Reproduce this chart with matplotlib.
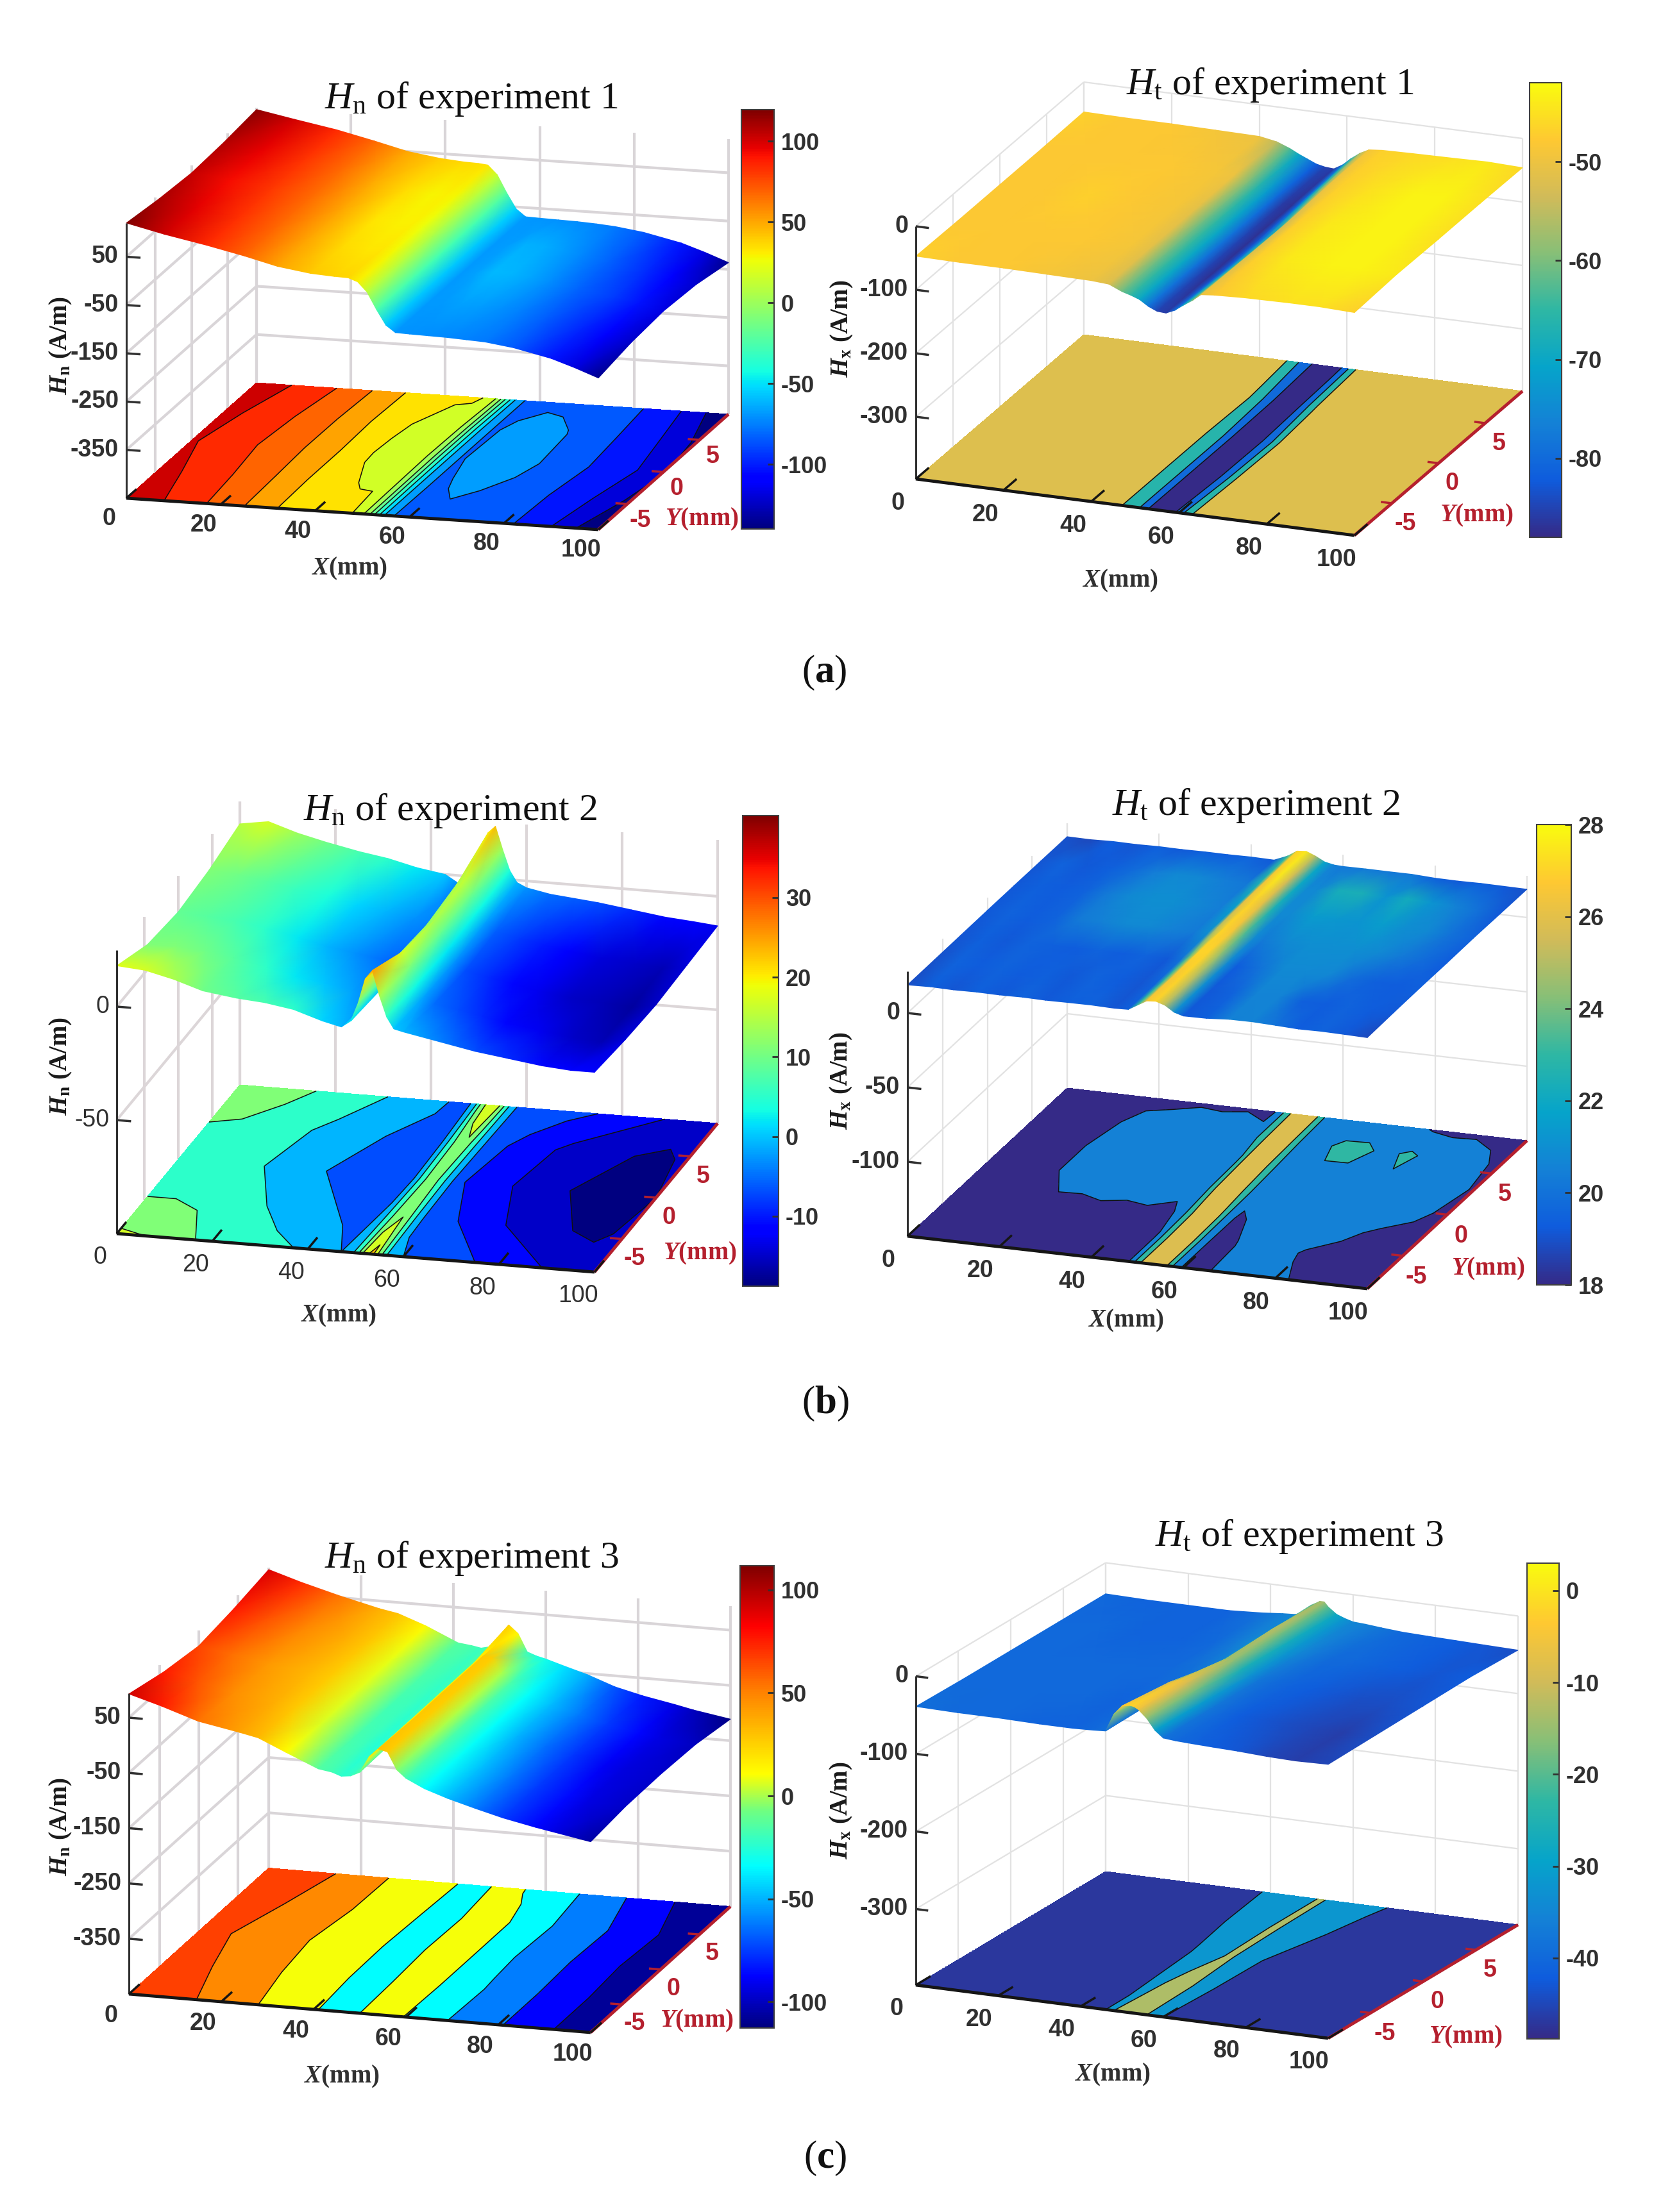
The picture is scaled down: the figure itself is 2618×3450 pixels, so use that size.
import numpy as np
import matplotlib
matplotlib.use('Agg')
import matplotlib.pyplot as plt
from matplotlib.cm import ScalarMappable
from matplotlib.colors import LinearSegmentedColormap, Normalize

plt.rcParams['font.family'] = ['Liberation Sans', 'DejaVu Sans']
plt.rcParams['axes.unicode_minus'] = False
plt.rcParams['mathtext.fontset'] = 'custom'
plt.rcParams['mathtext.rm'] = 'Liberation Serif'
plt.rcParams['mathtext.it'] = 'Liberation Serif:italic'
plt.rcParams['mathtext.bf'] = 'Liberation Serif:bold'
plt.rcParams['mathtext.bfit'] = 'Liberation Serif:italic:bold'

parula = LinearSegmentedColormap.from_list('parula', [
    '#352a87', '#0f5cdd', '#1481d6', '#06a4ca', '#2eb7a4',
    '#87bf77', '#d1bb59', '#fec832', '#f9fb0e'])
jet = plt.get_cmap('jet')
# the colour bar of experiment 3 has its yellow lower down than plain jet
jet_warm = LinearSegmentedColormap.from_list('jet_warm', [
    (0, '#000080'), (0.11, '#0000ff'), (0.35, '#00ffff'), (0.47, '#70ff80'),
    (0.55, '#ffff00'), (0.73, '#ff8000'), (0.87, '#ff0000'), (1, '#800000')])

# Y stations of the measured rows, mm
y_rows = [-9, -4.5, 0, 4.5, 9]
y_rows_e2t = [-9, -6, -3, 0, 3, 6, 9]
x_ticks = [0, 20, 40, 60, 80, 100]
y_ticks = [-5, 0, 5]

# experiment 1, Hn
x_e1n = [0, 8, 17, 25, 32, 39, 44, 47, 49, 51, 53, 55, 57, 60, 64, 68, 72, 76, 82, 90, 95, 100]
z_e1n = [
    [120, 102, 85, 68, 51, 41, 38, 37, 30, 10, -25, -56, -70, -71, -72, -73, -75, -77, -85, -102, -118, -136],
    [110, 97, 83, 67, 50, 36, 33, 33, 28, 8, -27, -56, -69, -69, -66, -68, -71, -75, -84, -98, -108, -123],
    [104, 93, 81, 66, 50, 33, 30, 30, 26, 6, -28, -56, -69, -66, -60, -61, -65, -72, -82, -93, -103, -117],
    [108, 96, 82, 66, 49, 35, 29, 30, 28, 8, -27, -56, -69, -67, -62, -63, -67, -73, -83, -97, -108, -122],
    [116, 101, 85, 67, 50, 40, 36, 35, 33, 14, -22, -54, -69, -70, -71, -72, -74, -77, -85, -102, -118, -136],
]
levels_e1n = [-140, -119, -102, -85, -68, -51, -34, -17, 0, 17, 34, 51, 68, 85, 102, 120]

# experiment 1, Ht
x_e1t = [0, 10, 20, 30, 40, 44, 47, 49, 51, 53, 55, 57, 59, 61, 63, 65, 68, 75, 85, 92, 100]
z_e1t = [
    [-47, -48, -48, -49, -50, -52, -61, -65, -70, -79, -85, -86, -80, -70, -61, -50, -48, -46, -45, -45, -47],
    [-48, -48, -48, -48, -49, -51, -61, -65, -70, -79, -85, -87, -83, -74, -64, -52, -47, -44, -43, -43, -44],
    [-48, -48, -47, -48, -49, -51, -61, -65, -70, -79, -85, -87, -83, -75, -66, -53, -47, -44, -43, -43, -45],
    [-48, -48, -48, -48, -49, -50, -60, -66, -72, -80, -86, -87, -81, -70, -60, -50, -47, -45, -43, -43, -45],
    [-47, -48, -48, -49, -50, -55, -63, -70, -76, -82, -85, -86, -78, -66, -56, -49, -47, -46, -45, -44, -46],
]
levels_e1t = [-88, -79, -70, -61, -42]
bands_e1t = [-88, -80, -66, -52]

# experiment 2, Hn
x_e2n = [0, 6, 12, 18, 25, 31, 37, 43, 47, 49, 50.5, 52, 53.5, 55, 56.5, 58, 60, 65, 70, 75, 82, 89, 95, 100]
z_e2n = [
    [18, 17, 14, 10, 8, 7, 5, 1, -1, 2, 10, 21, 25, 14, 5, 0, -1, -3, -5, -7, -9, -11, -12, -12],
    [11, 11, 10, 8, 5, 2, 0, -2, -4, 0, 7, 14, 17, 11, 3, -2, -5, -7, -9, -11, -13, -15, -16, -14],
    [9, 8, 7, 5, 2, -1, -3, -5, -6, -3, 5, 12, 14, 9, 2, -3, -7, -9, -11, -13, -15, -16, -17, -15],
    [11, 10, 8, 6, 4, 1, -1, -3, -4, -1, 7, 14, 16, 10, 3, -2, -6, -8, -10, -12, -14, -15, -16, -14],
    [15, 17, 13, 10, 7, 5, 2, 0, -5, 1, 12, 20, 23, 13, 4, -1, -3, -5, -6, -7, -9, -11, -12, -13],
]
levels_e2n = [-19, -15, -11, -7, -1, 5, 11, 17, 23, 29, 41]

# experiment 2, Ht
x_e2t = [0, 5, 10, 15, 20, 25, 30, 35, 40, 45, 48, 50, 52, 54, 56, 58, 60, 65, 70, 75, 80, 85, 90, 95, 100]
z_e2t = [
    [18.9, 19.4, 19.1, 19.4, 19.2, 19.5, 19.2, 19.4, 19.5, 19.1, 19.4, 23, 26.5, 27, 25, 21, 19.2, 19.4, 20.5, 20.6, 20, 19.3, 19.5, 19.2, 18.8],
    [19, 19.5, 19.3, 19.5, 19.3, 19.4, 19.2, 19.5, 19.3, 19.1, 19.5, 23, 26.5, 27, 25, 21, 19.2, 19.5, 20.6, 20.6, 19.4, 19.3, 19.5, 19.3, 19.2],
    [19.1, 19.4, 19.2, 19.5, 19.4, 19.3, 19.5, 19.3, 19.5, 19.2, 20, 23.5, 27, 27, 24.5, 20.8, 19.3, 20, 20.8, 20.8, 20.7, 19.8, 19.4, 19.3, 19.4],
    [19.2, 19.5, 19.3, 19.5, 20.3, 20.5, 20.8, 20.8, 20.5, 20.3, 21, 25, 27, 26.5, 23.5, 20.8, 20.3, 20.8, 21, 21, 21, 20.8, 20.3, 19.8, 19.3],
    [19.2, 19.4, 19.3, 19.5, 20.3, 20.8, 21, 21, 20.7, 20.4, 21.5, 26, 27, 26, 22.5, 20.8, 20.8, 21.4, 21.3, 21.2, 21.5, 21, 20.8, 20, 19.5],
    [19.1, 19.5, 19.2, 19.4, 19.8, 20.4, 20.8, 20.7, 20.4, 20.2, 22.5, 26.5, 27.5, 25.5, 22, 20.8, 20.8, 22.3, 22.4, 21.2, 22.2, 21.2, 20.6, 20, 19.2],
    [19, 18.8, 19.3, 19.1, 19.4, 19.2, 19.4, 19.3, 19.5, 19.2, 23, 27, 27.5, 25, 21.8, 20.5, 20.2, 20.3, 20.2, 20.2, 19.4, 19.2, 19.4, 19.2, 19],
]
levels_e2t = [18, 19.6, 21.8, 24.2, 28]
bands_e2t = [18, 20.5, 23, 25.8]

# experiment 3, Hn
x_e3n = [0, 7, 15, 24, 28, 34, 41, 44, 46, 48, 50, 52, 54, 56, 58, 60, 64, 69, 75, 81, 88, 92, 100]
z_e3n = [
    [93, 76, 54, 40, 33, 11, -14, -18, -24, -22, -14, 15, 31, 27, -4, -18, -34, -48, -62, -75, -87, -93, -105],
    [76, 62, 46, 36, 28, 6, -17, -20, -25, -22, -12, 14, 28, 26, 0, -16, -32, -47, -62, -75, -86, -93, -98],
    [66, 55, 43, 33, 27, 7, -18, -20, -24, -18, -10, 14, 28, 26, 2, -16, -33, -50, -64, -76, -89, -94, -97],
    [76, 62, 48, 36, 29, 8, -16, -19, -22, -18, -12, 14, 28, 26, 1, -16, -33, -48, -62, -75, -87, -93, -100],
    [90, 72, 54, 36, 30, 12, -14, -17, -20, -16, 0, 26, 12, -20, -26, -30, -40, -52, -70, -82, -93, -100, -111],
]
levels_e3n = [-113, -93, -75, -48, -14, 33, 55, 113]
bands_e3n = [-108, -88, -61, -34, 10, 48, 67]

# experiment 3, Ht
x_e3t = [0, 10, 20, 30, 38, 43, 46, 48, 50, 52, 53, 54, 56, 58, 60, 63, 67, 72, 78, 85, 92, 100]
z_e3t = [
    [-39, -40, -40, -41, -41, -40, -39, -16, -4, -2, -3, -6, -16, -30, -38.5, -40, -41, -42, -43, -45, -46, -45],
    [-40, -40, -40, -40, -41, -40, -38, -22, -10, -6, -6, -9, -18, -31, -38, -40, -42, -43, -44, -45, -46, -44],
    [-40, -40, -40, -40, -40, -39, -37, -32, -24, -15.5, -14, -15.5, -26, -33, -38, -39.5, -41, -42, -43, -44, -44, -43],
    [-40, -40, -41, -41, -40, -37, -35, -30, -22, -13, -13, -18, -27, -32, -35, -37.5, -39.5, -40, -41, -42, -43, -42],
    [-40, -41, -41, -41, -38.5, -36, -35, -31, -20, -14, -14, -20, -28, -32, -35, -36, -38, -40, -41, -42, -43, -44],
]
levels_e3t = [-49, -38.5, -16, 3]
bands_e3t = [-47, -32, -13]

# tick values
zticks_e1n = [50, -50, -150, -250, -350]
zticks_e1t = [0, -100, -200, -300]
zticks_e2n = [0, -50]
zticks_e2t = [0, -50, -100]
cticks_e1n = [100, 50, 0, -50, -100]
cticks_e1t = [-50, -60, -70, -80]
cticks_e2n = [30, 20, 10, 0, -10]
cticks_e2t = [28, 26, 24, 22, 20, 18]
cticks_e3n = [100, 50, 0, -50, -100]
cticks_e3t = [0, -10, -20, -30, -40]

# layout in output pixels: floor corners are front-left, front-right, back-left
panels = [
    dict(x=x_e1n, y=y_rows, z=z_e1n, lev=levels_e1n, bands=None, cmap=jet, clim=(-140, 119.6),
         fl=(197, 777), fr=(933, 826), bl=(400, 597), zs=0.753, zlim=(-450, 120), zticks=zticks_e1n,
         cbar=(1156, 171, 1207, 825), cticks=cticks_e1n, xoff=(-27, 32), yoff=(20, 26),
         title=r'$\mathit{H}_{\mathrm{n}}$ of experiment 1', tpos=(735, 154),
         xlab=(545, 887), ylab=(1094, 810), zlab=(95, 539), sub='n', grid='#d9d5d8', lw=3),
    dict(x=x_e1t, y=y_rows, z=z_e1t, lev=levels_e1t, bands=bands_e1t, cmap=parula, clim=(-88, -42),
         fl=(1428, 747), fr=(2112, 835), bl=(1690, 522), zs=0.99, zlim=(-398, 0), zticks=zticks_e1t,
         cbar=(2385, 129, 2435, 838), cticks=cticks_e1t, xoff=(-28, 38), yoff=(21, 32),
         title=r'$\mathit{H}_{\mathrm{t}}$ of experiment 1', tpos=(1980, 132),
         xlab=(1747, 906), ylab=(2302, 804), zlab=(1313, 513), sub='x', grid='#e2e2e2', lw=1.6),
    dict(x=x_e2n, y=y_rows, z=z_e2n, lev=levels_e2n, bands=None, cmap=jet, clim=(-18.8, 40.3),
         fl=(182, 1924), fr=(927, 1984), bl=(374, 1692), zs=3.54, zlim=(-100, 25), zticks=zticks_e2n,
         cbar=(1158, 1272, 1214, 2006), cticks=cticks_e2n, xoff=(-26, 37), yoff=(20, 31),
         title=r'$\mathit{H}_{\mathrm{n}}$ of experiment 2', tpos=(702, 1265),
         xlab=(528, 2052), ylab=(1091, 1955), zlab=(95, 1663), sub='n', grid='#dcd6d8', lw=3, tw='normal'),
    dict(x=x_e2t, y=y_rows_e2t, z=z_e2t, lev=levels_e2t, bands=bands_e2t, cmap=parula, clim=(18, 28),
         fl=(1415, 1928), fr=(2132, 2010), bl=(1664, 1697), zs=2.32, zlim=(-150, 28), zticks=zticks_e2t,
         cbar=(2396, 1286, 2450, 2004), cticks=cticks_e2t, xoff=(-30, 38), yoff=(21, 33),
         title=r'$\mathit{H}_{\mathrm{t}}$ of experiment 2', tpos=(1958, 1256),
         xlab=(1756, 2060), ylab=(2320, 1979), zlab=(1312, 1686), sub='x', grid='#e2e2e2', lw=1.6),
    dict(x=x_e3n, y=y_rows, z=z_e3n, lev=levels_e3n, bands=bands_e3n, cmap=jet_warm, clim=(-112.6, 111.7),
         fl=(201, 3110), fr=(921, 3170), bl=(419, 2913.5), zs=0.862, zlim=(-450, 94), zticks=zticks_e1n,
         cbar=(1154, 2442, 1207, 3163), cticks=cticks_e3n, xoff=(-28, 34), yoff=(20, 30),
         title=r'$\mathit{H}_{\mathrm{n}}$ of experiment 3', tpos=(735, 2431),
         xlab=(533, 3239), ylab=(1086, 3152), zlab=(95, 2849), sub='n', grid='#d9d5d8', lw=3),
    dict(x=x_e3t, y=y_rows, z=z_e3t, lev=levels_e3t, bands=bands_e3t, cmap=parula, clim=(-48.8, 3),
         fl=(1428, 3096), fr=(2071, 3179), bl=(1724, 2919), zs=1.21, zlim=(-398, 0), zticks=zticks_e1t,
         cbar=(2381, 2438, 2431, 3180), cticks=cticks_e3t, xoff=(-30, 37), yoff=(22, 32),
         title=r'$\mathit{H}_{\mathrm{t}}$ of experiment 3', tpos=(2026, 2396),
         xlab=(1735, 3236), ylab=(2285, 3177), zlab=(1312, 2824), sub='x', grid='#e2e2e2', lw=1.6),
]
captions = [('a', 1285, 1049), ('b', 1287, 2189), ('c', 1287, 3366)]

W, H = 2618, 3450
RED = '#b5202e'
SERIF = 'Liberation Serif'
fig = plt.figure(figsize=(W / 100, H / 100), dpi=100)
ax = fig.add_axes([0, 0, 1, 1])
ax.set_xlim(0, W)
ax.set_ylim(H, 0)
ax.axis('off')


def project(p, x, y, z):
    # MATLAB view is orthographic, so the box maps affinely onto the page
    x = np.asarray(x, float)
    y = np.asarray(y, float)
    z = np.asarray(z, float)
    u = x / 100
    v = (y + 9) / 18
    sx = p['fl'][0] + u * (p['fr'][0] - p['fl'][0]) + v * (p['bl'][0] - p['fl'][0])
    sy = p['fl'][1] + u * (p['fr'][1] - p['fl'][1]) + v * (p['bl'][1] - p['fl'][1])
    return sx, sy - (z - p['zlim'][0]) * p['zs']


def seg(p, a, b, **kw):
    sx, sy = project(p, [a[0], b[0]], [a[1], b[1]], [a[2], b[2]])
    ax.plot(sx, sy, solid_capstyle='butt', **kw)


def draw_panel(p):
    z0, z1 = p['zlim']
    gkw = dict(color=p['grid'], lw=p['lw'], zorder=1)
    for t in x_ticks:
        seg(p, (t, 9, z0), (t, 9, z1), **gkw)
    for t in y_ticks:
        seg(p, (0, t, z0), (0, t, z1), **gkw)
    for t in p['zticks']:
        seg(p, (0, -9, t), (0, 9, t), **gkw)
        seg(p, (0, 9, t), (100, 9, t), **gkw)
    seg(p, (0, 9, z0), (0, 9, z1), **gkw)

    # far rows first so nearer parts of the ridge paint over them
    xx, yy = np.meshgrid(p['x'], p['y'])
    zz = np.array(p['z'], float)
    norm = Normalize(*p['clim'])
    sx, sy = project(p, xx, yy, zz)
    ax.pcolormesh(sx[::-1], sy[::-1], zz[::-1], shading='gouraud', cmap=p['cmap'], norm=norm, zorder=3)

    # contour sheet on the floor, MATLAB paints a band with its lower level
    fx, fy = project(p, xx, yy, z0)
    bands = p['lev'][:-1] if p['bands'] is None else p['bands']
    ax.contourf(fx, fy, zz, levels=p['lev'], colors=[p['cmap'](norm(v)) for v in bands], zorder=2)
    ax.contour(fx, fy, zz, levels=p['lev'][1:-1], colors='#101010', linewidths=1.1,
               linestyles='solid', zorder=2.5)

    # axes
    seg(p, (0, -9, z0), (100, -9, z0), color='#151515', lw=3.5, zorder=4)
    seg(p, (100, -9, z0), (100, 9, z0), color=RED, lw=3.5, zorder=4)
    seg(p, (0, -9, z0), (0, -9, z1), color='#303030', lw=2.2, zorder=4)
    weight = p.get('tw', 'bold')
    for t in x_ticks:
        seg(p, (t, -9, z0), (t, -7.6, z0), color='#151515', lw=2.5, zorder=4)
        sx, sy = project(p, t, -9, z0)
        ax.text(sx + p['xoff'][0], sy + p['xoff'][1], str(t), fontsize=27, weight=weight, color='#303030',
                ha='center', va='center', zorder=5)
    for t in y_ticks:
        seg(p, (100, t, z0), (97.5, t, z0), color=RED, lw=2.5, zorder=4)
        sx, sy = project(p, 100, t, z0)
        ax.text(sx + p['yoff'][0], sy + p['yoff'][1], str(t), fontsize=27, weight='bold', color=RED,
                ha='center', va='center', zorder=5)
    for t in p['zticks']:
        seg(p, (0, -9, t), (3, -9, t), color='#303030', lw=2.5, zorder=4)
        sx, sy = project(p, 0, -9, t)
        ax.text(sx - 12, sy, str(t), fontsize=27, weight=weight, color='#303030',
                ha='right', va='center', zorder=5)

    # labels
    ax.text(*p['tpos'], p['title'], fontsize=43, family=SERIF, ha='center', va='center',
            color='#111111', zorder=6)
    ax.text(*p['xlab'], r'$\mathbfit{X}$(mm)', fontsize=28, family=SERIF, weight='bold', color='#303030',
            ha='center', va='center', zorder=5)
    ax.text(*p['ylab'], r'$\mathbfit{Y}$(mm)', fontsize=28, family=SERIF, weight='bold', color=RED,
            ha='center', va='center', zorder=5)
    ax.text(*p['zlab'], r'$\mathbfit{H}_{\mathbf{%s}}$ (A/m)' % p['sub'], fontsize=28, family=SERIF,
            weight='bold', rotation=90, color='#1a1a1a', ha='center', va='center', zorder=5)

    # colour bar
    x0, y0, x1, y1 = p['cbar']
    cax = fig.add_axes([x0 / W, 1 - y1 / H, (x1 - x0) / W, (y1 - y0) / H])
    cb = fig.colorbar(ScalarMappable(norm=norm, cmap=p['cmap']), cax=cax, ticks=p['cticks'])
    cb.ax.tick_params(direction='in', length=7, width=2, labelsize=26, pad=8, colors='#303030')
    for lab in cb.ax.get_yticklabels():
        lab.set_fontweight('bold')
    cb.outline.set_linewidth(1.5)
    cb.outline.set_edgecolor('#404040')


for p in panels:
    draw_panel(p)

for letter, cx, cy in captions:
    ax.text(cx, cy, r'($\mathbf{%s}$)' % letter, fontsize=44, family=SERIF, ha='center', va='center',
            color='#111111')

fig.savefig('out.png', dpi=100)
